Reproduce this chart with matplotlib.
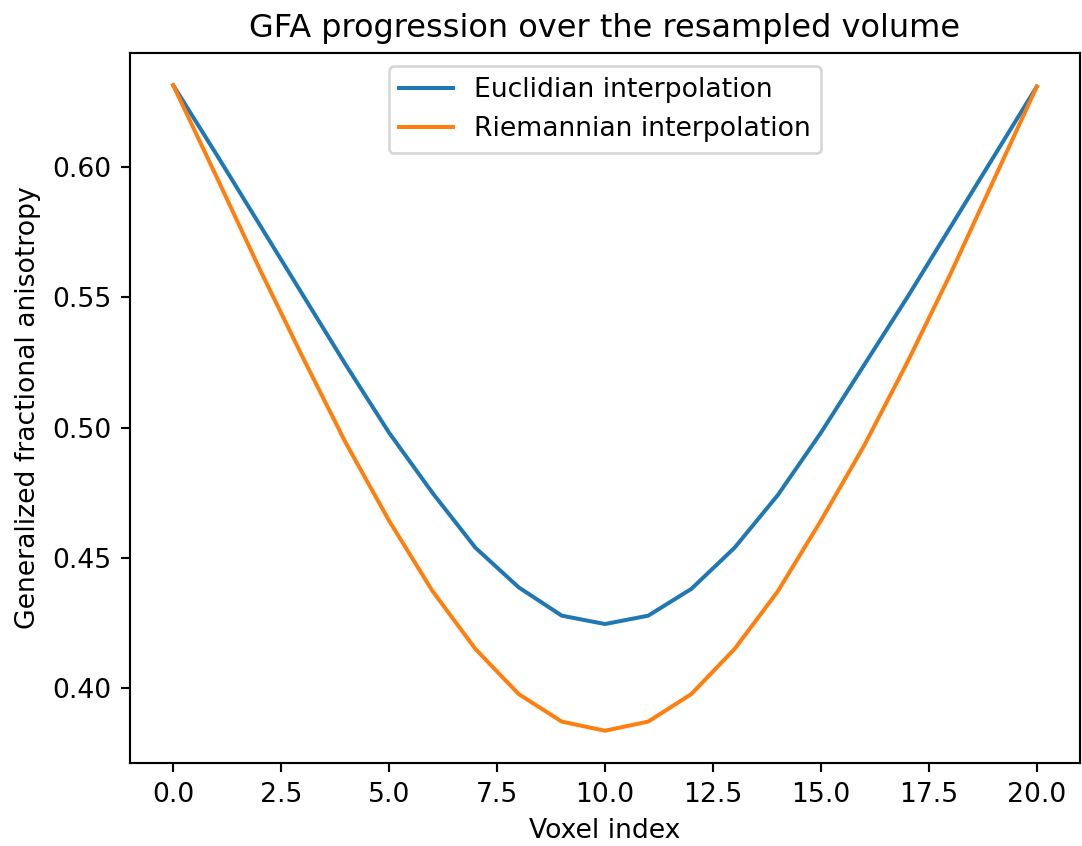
import matplotlib
matplotlib.use('Agg')
import matplotlib.pyplot as plt

voxels = list(range(21))
euclidian = [0.6315, 0.605, 0.578, 0.551, 0.524, 0.498, 0.475, 0.4538,
             0.4386, 0.4277, 0.4245, 0.4277, 0.4380, 0.4538, 0.474, 0.498,
             0.524, 0.550, 0.577, 0.604, 0.631]
riemannian = [0.6315, 0.5965, 0.561, 0.527, 0.494, 0.4642, 0.4373, 0.4149,
              0.3976, 0.387, 0.3835, 0.387, 0.3976, 0.4149, 0.437, 0.4642,
              0.493, 0.525, 0.559, 0.595, 0.631]

dpi = 192
fig = plt.figure(figsize=(1082 / dpi, 846 / dpi), dpi=dpi)
ax = fig.add_axes([130 / 1082, 1 - 763 / 846, 950 / 1082, 710 / 846])
ax.plot(voxels, euclidian, label='Euclidian interpolation')
ax.plot(voxels, riemannian, label='Riemannian interpolation')
ax.set_title('GFA progression over the resampled volume')
ax.set_xlabel('Voxel index')
ax.set_ylabel('Generalized fractional anisotropy')
ax.legend(loc='upper center')
fig.savefig('out.png', dpi=dpi)
